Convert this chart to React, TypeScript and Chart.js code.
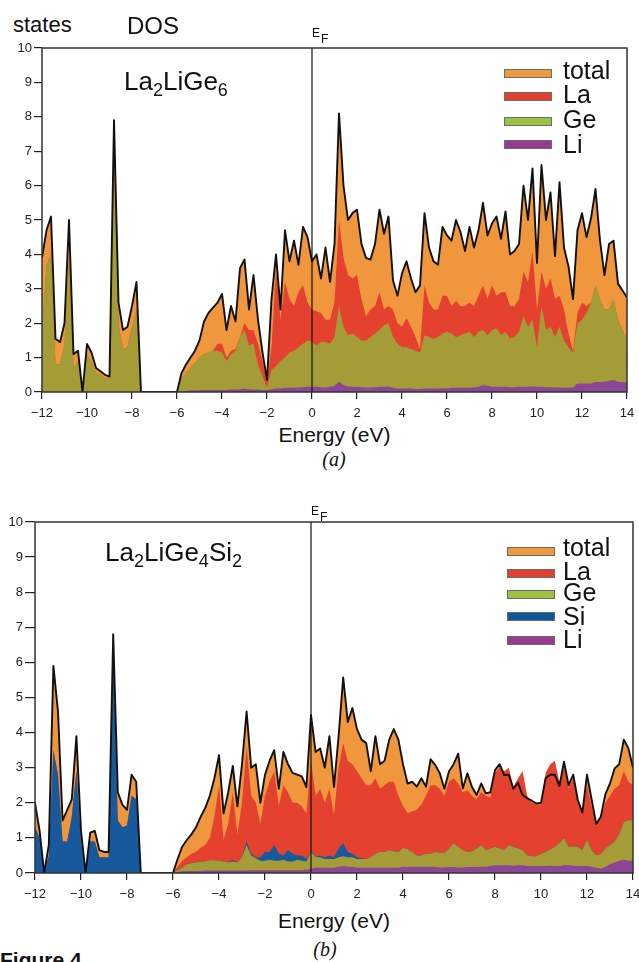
import React, { useEffect, useRef } from 'react';
import { Chart, registerables } from 'chart.js';

Chart.register(...registerables);

// ---------- data ----------
const energy = [
  -12, -11.8, -11.6, -11.4, -11.2, -11, -10.8, -10.6, -10.4, -10.2,
  -10, -9.8, -9.6, -9.4, -9.2, -9, -8.8, -8.6, -8.4, -8.2,
  -8, -7.8, -7.6, -7.4, -7.2, -7, -6.8, -6.6, -6.4, -6.2,
  -6, -5.8, -5.6, -5.4, -5.2, -5, -4.8, -4.6, -4.4, -4.2,
  -4, -3.8, -3.6, -3.4, -3.2, -3, -2.8, -2.6, -2.4, -2.2,
  -2, -1.8, -1.6, -1.4, -1.2, -1, -0.8, -0.6, -0.4, -0.2,
  0, 0.2, 0.4, 0.6, 0.8, 1, 1.2, 1.4, 1.6, 1.8,
  2, 2.2, 2.4, 2.6, 2.8, 3, 3.2, 3.4, 3.6, 3.8,
  4, 4.2, 4.4, 4.6, 4.8, 5, 5.2, 5.4, 5.6, 5.8,
  6, 6.2, 6.4, 6.6, 6.8, 7, 7.2, 7.4, 7.6, 7.8,
  8, 8.2, 8.4, 8.6, 8.8, 9, 9.2, 9.4, 9.6, 9.8,
  10, 10.2, 10.4, 10.6, 10.8, 11, 11.2, 11.4, 11.6, 11.8,
  12, 12.2, 12.4, 12.6, 12.8, 13, 13.2, 13.4, 13.6, 13.8,
  14,
];

const xTicks = [-12, -10, -8, -6, -4, -2, 0, 2, 4, 6, 8, 10, 12, 14];
const xTickLabels = ['\u221212', '\u221210', '\u22128', '\u22126', '\u22124', '\u22122', '0', '2', '4', '6', '8', '10', '12', '14'];
const yTicks = [0, 1, 2, 3, 4, 5, 6, 7, 8, 9, 10];
const yTickLabels = ['0', '1', '2', '3', '4', '5', '6', '7', '8', '9', '10'];

// Panel (a) La2LiGe6 — upper edges of the stacked areas as drawn
const aTotal = [
  3.9, 4.7, 5.1, 1.55, 1.45, 2.0, 5.0, 1.1, 1.2, 0.0,
  1.4, 1.15, 0.7, 0.6, 0.5, 0.45, 7.9, 2.6, 1.8, 1.9,
  2.5, 3.2, 0, 0, 0, 0, 0, 0, 0, 0,
  0, 0.55, 0.8, 1.0, 1.2, 1.5, 2.05, 2.3, 2.45, 2.6,
  2.85, 1.8, 2.5, 2.05, 3.6, 3.85, 2.4, 3.4, 2.1, 1.15,
  0.35, 2.7, 4.0, 2.4, 4.7, 3.8, 4.4, 3.7, 4.8, 4.5,
  3.8, 4.0, 3.3, 4.2, 3.2, 4.3, 8.1, 6.0, 5.0, 5.2,
  5.3, 4.3, 3.9, 3.85, 4.3, 5.3, 4.6, 5.1, 3.25, 2.8,
  3.45, 3.8, 3.3, 2.9, 3.1, 5.2, 4.2, 3.8, 3.7, 4.8,
  4.55, 4.4, 5.0, 4.65, 4.1, 4.8, 4.2, 4.7, 5.5, 4.55,
  4.9, 5.1, 4.45, 5.25, 4.0, 4.1, 4.3, 6.0, 5.0, 6.5,
  3.75, 6.6, 5.0, 5.8, 3.95, 6.1, 4.2, 3.65, 2.7, 4.7,
  5.2, 4.5, 5.05, 5.9, 4.4, 3.4, 4.3, 4.4, 3.15, 2.95,
  2.75,
];
const aLa = [
  1.8, 3.7, 4.0, 0.8, 0.8, 1.4, 3.9, 0.7, 0.9, 0.0,
  1.1, 0.9, 0.55, 0.5, 0.4, 0.4, 7.2, 2.0, 1.25, 1.3,
  1.9, 2.4, 0, 0, 0, 0, 0, 0, 0, 0,
  0, 0.4, 0.55, 0.7, 0.85, 1.0, 1.1, 1.15, 1.2, 1.4,
  1.4, 1.0, 1.2, 1.25, 1.6, 2.0, 1.8, 1.8, 1.4, 0.9,
  0.3, 1.3, 3.6, 2.1, 3.2, 2.7, 2.5, 2.9, 3.1, 2.6,
  2.4, 2.35, 2.3, 2.1, 2.1, 2.6, 5.0, 3.9, 3.4, 3.3,
  3.4, 2.7, 2.2, 2.4, 2.5, 2.9, 2.4, 2.5, 2.4, 2.0,
  1.9, 2.15, 1.9, 1.6, 1.25, 3.1, 2.6, 2.4, 2.4, 2.8,
  2.8, 2.5, 2.65, 2.5, 2.5, 2.6, 2.5, 2.8, 3.1, 2.7,
  3.1, 2.8, 2.9, 2.9, 2.5, 2.5, 2.7, 3.5, 3.2, 4.1,
  2.4, 3.5, 3.0, 3.3, 2.7, 2.8, 2.4, 1.7, 1.2, 2.3,
  2.6, 2.5, 2.6, 3.1, 2.7, 2.4, 2.4, 2.7, 2.1, 1.8,
  1.5,
];
const aGe = [
  1.8, 3.7, 4.0, 0.8, 0.8, 1.4, 3.9, 0.7, 0.9, 0.0,
  1.1, 0.9, 0.55, 0.5, 0.4, 0.4, 7.2, 2.0, 1.25, 1.3,
  1.9, 2.4, 0, 0, 0, 0, 0, 0, 0, 0,
  0, 0.4, 0.55, 0.7, 0.85, 1.0, 1.1, 1.15, 1.2, 1.2,
  1.15, 0.9, 1.1, 1.2, 1.6, 1.8, 1.35, 1.4, 0.8, 0.45,
  0.12, 0.65, 0.75, 0.9, 1.0, 1.15, 1.2, 1.3, 1.4, 1.5,
  1.45, 1.35, 1.45, 1.45, 1.4, 1.6, 2.5, 1.9, 1.65, 1.7,
  1.6, 1.5, 1.5, 1.6, 1.7, 1.8, 1.95, 2.0, 1.6, 1.4,
  1.3, 1.3, 1.25, 1.2, 1.15, 1.65, 1.6, 1.55, 1.6, 1.7,
  1.75, 1.7, 1.6, 1.65, 1.7, 1.75, 1.6, 1.75, 1.8, 1.65,
  1.8, 1.85, 1.65, 1.75, 1.55, 1.6, 1.75, 2.2, 1.9, 2.1,
  1.3, 2.5, 1.8, 1.9, 1.6, 1.9, 1.5, 1.3, 1.15, 2.0,
  2.1, 2.3, 2.6, 3.1, 2.7, 2.4, 2.4, 2.7, 2.1, 1.8,
  1.5,
];
const aLi = [
  0, 0, 0, 0, 0, 0, 0, 0, 0, 0,
  0, 0, 0, 0, 0, 0, 0, 0, 0, 0,
  0, 0, 0, 0, 0, 0, 0, 0, 0, 0,
  0, 0.02, 0.03, 0.04, 0.05, 0.05, 0.06, 0.06, 0.06, 0.06,
  0.06, 0.06, 0.07, 0.07, 0.08, 0.1, 0.08, 0.07, 0.07, 0.06,
  0.05, 0.08, 0.1, 0.1, 0.12, 0.12, 0.12, 0.13, 0.14, 0.15,
  0.15, 0.15, 0.14, 0.13, 0.15, 0.18, 0.3, 0.2, 0.16, 0.15,
  0.15, 0.14, 0.13, 0.13, 0.14, 0.15, 0.15, 0.16, 0.13, 0.1,
  0.1, 0.1, 0.1, 0.09, 0.09, 0.1, 0.1, 0.1, 0.1, 0.11,
  0.11, 0.12, 0.12, 0.12, 0.12, 0.12, 0.13, 0.15, 0.2, 0.18,
  0.15, 0.15, 0.15, 0.15, 0.14, 0.14, 0.15, 0.15, 0.15, 0.16,
  0.15, 0.15, 0.14, 0.14, 0.13, 0.13, 0.12, 0.12, 0.13, 0.25,
  0.25, 0.25, 0.25, 0.3, 0.28, 0.3, 0.33, 0.35, 0.3, 0.28,
  0.28,
];

// Panel (b) La2LiGe4Si2 — upper edges of the stacked areas as drawn
const bTotal = [
  2.0, 1.2, 0.0, 0.8, 5.9, 4.6, 1.5, 1.8, 2.1, 3.9,
  1.2, 0.0, 1.15, 1.2, 0.65, 0.6, 0.6, 6.8, 2.3, 1.95,
  1.8, 2.8, 2.6, 0, 0, 0, 0, 0, 0, 0,
  0, 0.4, 0.75, 0.94, 1.1, 1.3, 1.6, 1.85, 2.2, 2.7,
  3.36, 1.7, 2.3, 3.05, 1.9, 3.1, 4.6, 3.0, 3.1, 2.0,
  2.8, 3.2, 3.5, 2.4, 3.45, 3.1, 2.85, 2.8, 2.75, 2.45,
  4.5, 3.45, 3.55, 3.0, 3.9, 2.45, 3.9, 5.57, 4.3, 4.7,
  4.1, 3.8, 3.7, 2.9, 3.9, 3.1, 3.2, 3.8, 4.1, 3.8,
  3.1, 2.55, 2.6, 2.46, 2.7, 2.46, 3.24, 3.08, 2.84, 2.4,
  2.9, 3.1, 3.4, 2.41, 2.84, 2.45, 2.22, 2.55, 2.27, 2.3,
  2.93, 3.1, 2.79, 2.8, 2.4, 2.57, 2.22, 2.13, 2.06, 1.98,
  2.0, 2.7, 2.8, 2.8, 2.48, 3.17, 2.5, 2.8, 2.08, 1.72,
  2.8, 2.1, 1.4, 1.6, 2.25, 2.55, 2.98, 3.1, 3.8, 3.55,
  3.0,
];
const bLa = [
  1.3, 1.0, 0, 0.5, 3.5, 2.8, 0.9, 0.9, 1.6, 2.9,
  0.9, 0, 0.9, 0.9, 0.45, 0.45, 0.45, 6.0, 1.5, 1.3,
  1.35, 2.2, 2.1, 0, 0, 0, 0, 0, 0, 0,
  0, 0.18, 0.35, 0.45, 0.55, 0.6, 0.72, 0.8, 1.0, 1.6,
  2.5, 0.95, 1.4, 2.3, 1.1, 2.0, 3.6, 2.2, 2.0, 1.4,
  2.2, 2.6, 2.9, 1.9, 2.5, 2.3, 2.0, 2.0, 1.9, 1.7,
  3.2, 2.2, 2.4, 2.0, 2.4, 1.65, 3.0, 3.7, 3.2, 3.1,
  2.9, 2.7, 2.5, 2.5, 2.7, 2.4, 2.5, 2.6, 2.6, 2.2,
  1.9, 1.7, 1.75, 1.8, 1.95, 2.2, 2.5, 2.5, 2.4, 2.2,
  2.6, 2.7, 2.55, 2.3, 2.35, 2.2, 2.1, 2.3, 2.2, 2.15,
  2.85, 3.0, 2.9, 3.0, 2.45, 2.7, 2.9, 2.2, 2.0, 1.95,
  1.95, 2.85, 3.1, 3.2, 2.6, 3.0, 2.4, 2.7, 2.0, 1.7,
  2.5, 1.9, 1.4, 1.6, 2.0, 2.2, 2.4, 2.5, 2.9, 2.6,
  2.5,
];
const bSi = [
  1.3, 1.0, 0, 0.5, 3.5, 2.8, 0.9, 0.9, 1.6, 2.9,
  0.9, 0, 0.9, 0.9, 0.45, 0.45, 0.45, 6.0, 1.5, 1.3,
  1.35, 2.2, 2.1, 0, 0, 0, 0, 0, 0, 0,
  0, 0.08, 0.15, 0.25, 0.28, 0.3, 0.32, 0.33, 0.36, 0.36,
  0.35, 0.33, 0.3, 0.38, 0.3, 0.45, 0.9, 0.55, 0.45, 0.45,
  0.6, 0.6, 0.8, 0.55, 0.5, 0.65, 0.55, 0.5, 0.5, 0.4,
  0.62, 0.48, 0.5, 0.45, 0.5, 0.45, 0.7, 0.85, 0.6, 0.55,
  0.45, 0.42, 0.4, 0.45, 0.55, 0.6, 0.6, 0.65, 0.62, 0.6,
  0.72, 0.68, 0.6, 0.5, 0.5, 0.55, 0.55, 0.6, 0.58, 0.56,
  0.7, 0.85, 0.75, 0.65, 0.6, 0.62, 0.7, 0.8, 0.65, 0.7,
  0.75, 0.7, 0.65, 0.8, 0.75, 0.7, 0.65, 0.5, 0.48, 0.48,
  0.55, 0.6, 0.68, 0.75, 0.85, 1.0, 0.75, 0.75, 0.75, 0.65,
  0.95, 0.65, 0.5, 0.55, 0.7, 0.8, 0.9, 1.1, 1.45, 1.5,
  1.5,
];
const bGe = [
  0, 0, 0, 0, 0, 0, 0, 0, 0, 0,
  0, 0, 0, 0, 0, 0, 0, 0, 0, 0,
  0, 0, 0, 0, 0, 0, 0, 0, 0, 0,
  0, 0.08, 0.15, 0.25, 0.28, 0.3, 0.32, 0.33, 0.36, 0.36,
  0.35, 0.33, 0.3, 0.33, 0.3, 0.45, 0.8, 0.5, 0.42, 0.35,
  0.35, 0.38, 0.35, 0.35, 0.38, 0.33, 0.33, 0.38, 0.35, 0.33,
  0.6, 0.46, 0.45, 0.4, 0.4, 0.4, 0.45, 0.48, 0.45, 0.45,
  0.4, 0.4, 0.4, 0.45, 0.55, 0.6, 0.6, 0.65, 0.62, 0.6,
  0.72, 0.68, 0.6, 0.5, 0.5, 0.55, 0.55, 0.6, 0.58, 0.56,
  0.7, 0.85, 0.75, 0.65, 0.6, 0.62, 0.7, 0.8, 0.65, 0.7,
  0.75, 0.7, 0.65, 0.8, 0.75, 0.7, 0.65, 0.5, 0.48, 0.48,
  0.55, 0.6, 0.68, 0.75, 0.85, 1.0, 0.75, 0.75, 0.75, 0.65,
  0.95, 0.65, 0.5, 0.55, 0.7, 0.8, 0.9, 1.1, 1.45, 1.5,
  1.5,
];
const bLi = [
  0, 0, 0, 0, 0, 0, 0, 0, 0, 0,
  0, 0, 0, 0, 0, 0, 0, 0, 0, 0,
  0, 0, 0, 0, 0, 0, 0, 0, 0, 0,
  0, 0.03, 0.05, 0.06, 0.06, 0.06, 0.06, 0.07, 0.07, 0.07,
  0.07, 0.07, 0.07, 0.07, 0.07, 0.07, 0.07, 0.08, 0.08, 0.08,
  0.08, 0.08, 0.08, 0.08, 0.08, 0.08, 0.08, 0.08, 0.08, 0.1,
  0.12, 0.15, 0.15, 0.15, 0.15, 0.15, 0.18, 0.2, 0.18, 0.18,
  0.15, 0.15, 0.15, 0.15, 0.15, 0.15, 0.15, 0.15, 0.15, 0.15,
  0.18, 0.17, 0.18, 0.17, 0.18, 0.17, 0.18, 0.17, 0.16, 0.16,
  0.17, 0.17, 0.16, 0.16, 0.17, 0.17, 0.17, 0.18, 0.18, 0.2,
  0.22, 0.22, 0.22, 0.22, 0.21, 0.22, 0.22, 0.2, 0.2, 0.2,
  0.2, 0.2, 0.21, 0.2, 0.2, 0.22, 0.22, 0.21, 0.2, 0.2,
  0.2, 0.18, 0.15, 0.12, 0.18, 0.25, 0.3, 0.35, 0.38, 0.35,
  0.35,
];

const legendA = ['total', 'La', 'Ge', 'Li'];
const legendB = ['total', 'La', 'Ge', 'Si', 'Li'];

// ---------- styles ----------
const FILL: Record<string, string> = {
  total: '#F0963C',
  La: '#E4412F',
  Ge: '#A49C36',
  Si: '#16599C',
  Li: '#8C4696',
};
const SWATCH: Record<string, string> = {
  total: '#EE9A3E',
  La: '#E2402F',
  Ge: '#9DC143',
  Si: '#0F559A',
  Li: '#973B90',
};
const SANS = '"Liberation Sans", Arial, Helvetica, sans-serif';
const SERIF = '"Liberation Serif", "Times New Roman", serif';

const pts = (ys: number[]) => energy.map((x, i) => ({ x, y: ys[i] }));

const framePlugin = {
  id: 'frameAndEf',
  afterDatasetsDraw(chart: any) {
    const { ctx, chartArea: a, scales } = chart;
    ctx.save();
    const x0 = scales.x.getPixelForValue(0);
    ctx.strokeStyle = '#111';
    ctx.lineWidth = 1.2;
    ctx.beginPath();
    ctx.moveTo(x0, a.top);
    ctx.lineTo(x0, a.bottom);
    ctx.stroke();
    ctx.strokeStyle = '#333';
    ctx.lineWidth = 1.5;
    ctx.strokeRect(a.left, a.top, a.right - a.left, a.bottom - a.top);
    ctx.restore();
  },
};

type Layer = { key: string; data: number[] };

function DosPanel(props: {
  top: number;
  height: number;
  yAxisWidth: number;
  rightPad: number;
  yTickLen: number;
  total: number[];
  layers: Layer[]; // from front (top) to back
}) {
  const ref = useRef<HTMLCanvasElement>(null);
  useEffect(() => {
    const { total, layers, yAxisWidth, rightPad, yTickLen } = props;
    const datasets: any[] = [
      {
        data: pts(total),
        borderColor: '#111',
        borderWidth: 1.9,
        borderJoinStyle: 'round',
        backgroundColor: 'rgba(0,0,0,0)',
        fill: false,
        pointRadius: 0,
        order: 0,
      },
    ];
    layers.forEach((l, i) => {
      datasets.push({
        data: pts(l.data),
        borderColor: 'rgba(0,0,0,0)',
        borderWidth: 0,
        backgroundColor: FILL[l.key],
        fill: 'origin',
        pointRadius: 0,
        order: i + 1,
      });
    });
    datasets.push({
      data: pts(total),
      borderColor: 'rgba(0,0,0,0)',
      borderWidth: 0,
      backgroundColor: FILL.total,
      fill: 'origin',
      pointRadius: 0,
      order: layers.length + 1,
    });

    const tickFont = { family: SANS, size: 13 };
    const chart = new Chart(ref.current as HTMLCanvasElement, {
      type: 'line',
      data: { datasets },
      options: {
        animation: false,
        responsive: false,
        maintainAspectRatio: false,
        devicePixelRatio: 1,
        layout: { padding: { left: 0, right: rightPad, top: 10, bottom: 0 } },
        elements: { line: { tension: 0 }, point: { radius: 0 } },
        plugins: { legend: { display: false }, tooltip: { enabled: false } },
        scales: {
          x: {
            type: 'linear',
            min: -12,
            max: 14,
            afterBuildTicks: (s: any) => {
              s.ticks = xTicks.map((v) => ({ value: v }));
            },
            afterFit: (s: any) => {
              s.height = 30;
              s.paddingLeft = 0;
              s.paddingRight = 0;
            },
            ticks: {
              autoSkip: false,
              maxRotation: 0,
              padding: 7,
              color: '#222',
              font: tickFont,
              callback: (v: any) => xTickLabels[xTicks.indexOf(Number(v))] ?? '',
            },
            grid: {
              display: true,
              drawOnChartArea: false,
              drawTicks: true,
              tickLength: 7,
              color: '#222',
              lineWidth: 1.2,
            },
            border: { display: false },
          },
          y: {
            type: 'linear',
            min: 0,
            max: 10,
            afterBuildTicks: (s: any) => {
              s.ticks = yTicks.map((v) => ({ value: v }));
            },
            afterFit: (s: any) => {
              s.width = yAxisWidth;
              s.paddingTop = 0;
              s.paddingBottom = 0;
            },
            ticks: {
              autoSkip: false,
              padding: 2,
              color: '#222',
              font: tickFont,
              callback: (v: any) => yTickLabels[yTicks.indexOf(Number(v))] ?? '',
            },
            grid: {
              display: true,
              drawOnChartArea: false,
              drawTicks: true,
              tickLength: yTickLen,
              color: '#222',
              lineWidth: 1.2,
            },
            border: { display: false },
          },
        },
      } as any,
      plugins: [framePlugin],
    });
    return () => chart.destroy();
  }, []);
  return (
    <canvas
      ref={ref}
      width={639}
      height={props.height}
      style={{ position: 'absolute', left: 0, top: props.top, width: 639, height: props.height }}
    />
  );
}

function Txt(props: { left: number; top: number; size: number; children: any; style?: any }) {
  return (
    <div
      style={{
        position: 'absolute',
        left: props.left,
        top: props.top,
        fontFamily: SANS,
        fontSize: props.size,
        lineHeight: 1,
        whiteSpace: 'nowrap',
        color: '#111',
        ...(props.style || {}),
      }}
    >
      {props.children}
    </div>
  );
}

const Sub = (p: { children: any }) => (
  <span style={{ fontSize: 18, position: 'relative', top: 6 }}>{p.children}</span>
);

function Legend(props: { items: string[]; swTops: number[]; txtTops: number[]; swLeft: number; txtLeft: number }) {
  return (
    <>
      {props.items.map((k, i) => (
        <React.Fragment key={k}>
          <div
            style={{
              position: 'absolute',
              left: props.swLeft,
              top: props.swTops[i],
              width: 46,
              height: 7,
              background: SWATCH[k],
              border: '1px solid #6b6b6b',
            }}
          />
          <Txt left={props.txtLeft} top={props.txtTops[i]} size={25}>
            {k}
          </Txt>
        </React.Fragment>
      ))}
    </>
  );
}

export default function App() {
  return (
    <div
      style={{
        position: 'absolute',
        left: 0,
        top: 0,
        width: 639,
        height: 962,
        overflow: 'hidden',
        background: '#fff',
      }}
    >
      <DosPanel
        top={38}
        height={384}
        yAxisWidth={42}
        rightPad={12}
        yTickLen={8}
        total={aTotal}
        layers={[
          { key: 'Li', data: aLi },
          { key: 'Ge', data: aGe },
          { key: 'La', data: aLa },
        ]}
      />
      <DosPanel
        top={512}
        height={391}
        yAxisWidth={35}
        rightPad={6}
        yTickLen={10}
        total={bTotal}
        layers={[
          { key: 'Li', data: bLi },
          { key: 'Ge', data: bGe },
          { key: 'Si', data: bSi },
          { key: 'La', data: bLa },
        ]}
      />

      {/* panel (a) texts */}
      <Txt left={13} top={14} size={22}>states</Txt>
      <Txt left={127} top={14} size={24}>DOS</Txt>
      <Txt left={312} top={27} size={12}>
        E<span style={{ position: 'relative', top: 6, marginLeft: 1 }}>F</span>
      </Txt>
      <Txt left={124} top={68} size={26}>
        La<Sub>2</Sub>LiGe<Sub>6</Sub>
      </Txt>
      <Legend
        items={legendA}
        swLeft={504}
        swTops={[69, 92, 117, 140]}
        txtLeft={563}
        txtTops={[58, 82, 107, 132]}
      />
      <Txt left={0} top={424} size={21} style={{ width: 669, textAlign: 'center' }}>
        Energy (eV)
      </Txt>
      <Txt left={0} top={449} size={20} style={{ width: 668, textAlign: 'center', fontFamily: SERIF, fontStyle: 'italic' }}>
        (a)
      </Txt>

      {/* panel (b) texts */}
      <Txt left={311} top={505} size={12}>
        E<span style={{ position: 'relative', top: 6, marginLeft: 1 }}>F</span>
      </Txt>
      <Txt left={105} top={539} size={26}>
        La<Sub>2</Sub>LiGe<Sub>4</Sub>Si<Sub>2</Sub>
      </Txt>
      <Legend
        items={legendB}
        swLeft={507}
        swTops={[547, 569, 590, 612, 636]}
        txtLeft={563}
        txtTops={[535, 559, 580, 604, 627]}
      />
      <Txt left={0} top={910} size={21} style={{ width: 668, textAlign: 'center' }}>
        Energy (eV)
      </Txt>
      <Txt left={0} top={939} size={20} style={{ width: 650, textAlign: 'center', fontFamily: SERIF, fontStyle: 'italic' }}>
        (b)
      </Txt>
      <Txt left={0} top={949} size={21} style={{ fontWeight: 'bold' }}>
        Figure 4.
      </Txt>
    </div>
  );
}
